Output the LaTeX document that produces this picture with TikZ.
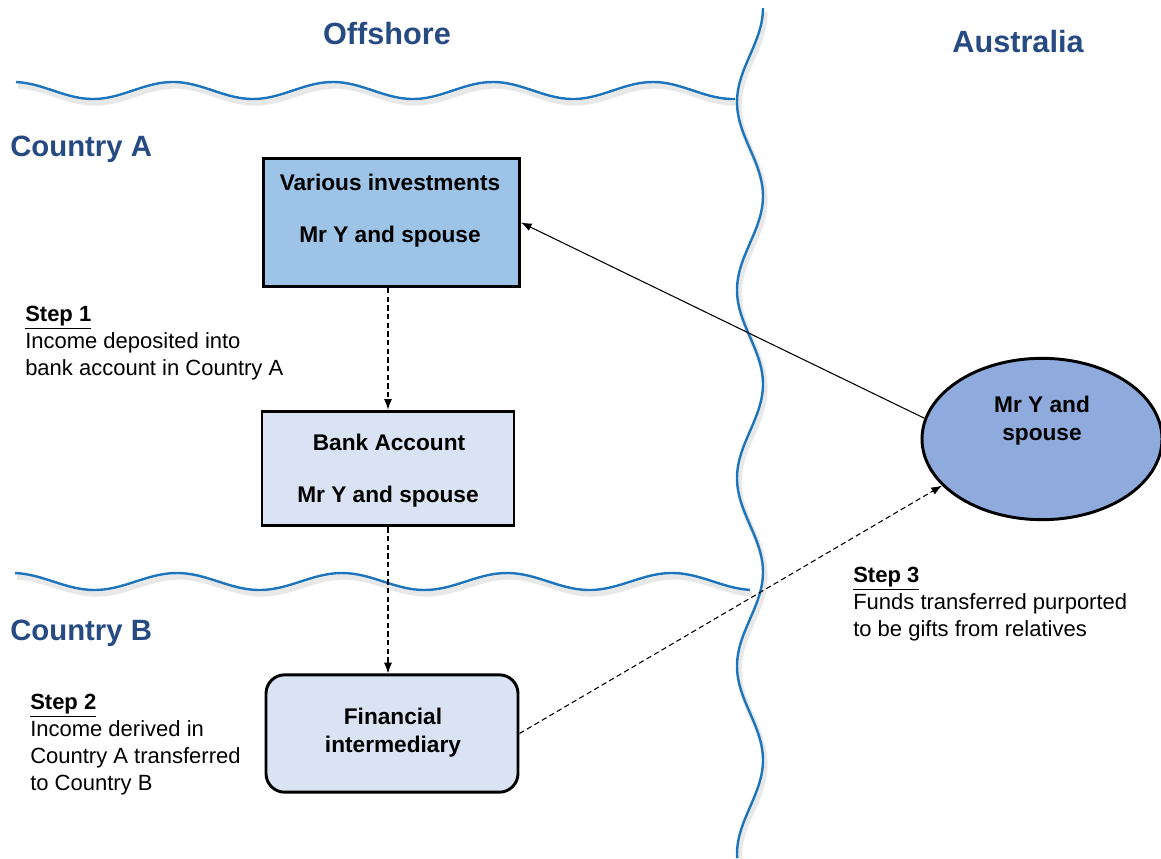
\documentclass[tikz,border=0pt]{standalone}
\usepackage{fontspec}
\setmainfont{Liberation Sans}
\usepackage{xcolor}
\usetikzlibrary{arrows.meta,shapes.geometric}

\definecolor{seablue}{RGB}{28,117,188}
\definecolor{headblue}{RGB}{38,74,130}
\definecolor{investfill}{RGB}{157,195,230}
\definecolor{paleblue}{RGB}{218,227,243}
\definecolor{ovalfill}{RGB}{143,170,220}

\begin{document}
\begin{tikzpicture}[x=0.75pt,y=-0.75pt,>={Latex[length=8pt,width=6pt]}]
\tikzstyle{border}=[draw=seablue,line width=1.8pt]
\tikzstyle{shade}=[draw=black!9,line width=4pt,xshift=1.5pt,yshift=-3pt]
\tikzstyle{title}=[text=headblue,inner sep=0pt,font=\fontsize{23}{27}\selectfont\bfseries]
\tikzstyle{box}=[draw=black,line width=2.2pt,inner sep=0pt]
\tikzstyle{boxtext}=[inner sep=0pt,font=\fontsize{17}{21}\selectfont\bfseries,align=center]
\tikzstyle{steptext}=[inner sep=0pt,anchor=west,align=left,font=\fontsize{16.5}{20.25}\selectfont]
\tikzstyle{flow}=[->,line width=0.8pt,dash pattern=on 4pt off 2.5pt]
\useasboundingbox (0,0) rectangle (1161,858);

\foreach \st in {shade,border} {
\draw[\st] plot[domain=16:735,samples=150] (\x,{90.5-8.5*cos((\x-173)/160*360)});
\draw[\st] plot[domain=15:750,samples=150] (\x,{581.5-8.5*cos((\x-507)/165*360)});
\draw[\st] plot[domain=8:858,samples=200] ({750+13*cos((\x-8)/188*360)},\x);
}

\node[title] (offshore) at (387,34) {Offshore};
\node[title] (australia) at (1018,42) {Australia};
\node[title,anchor=west,font=\fontsize{22}{26}\selectfont\bfseries] (countryA) at (10,149) {Country A};
\node[title,anchor=west,font=\fontsize{22}{26}\selectfont\bfseries] (countryB) at (10,633) {Country B};

\node[box,fill=investfill,minimum width=192pt,minimum height=96pt] (invest) at (391.5,222.5) {};
\node[boxtext] (investA) at (390,182) {Various investments};
\node[boxtext] (investB) at (390,237) {Mr Y and spouse};

\node[box,fill=paleblue,minimum width=189pt,minimum height=86pt] (bank) at (388,468.5) {};
\node[boxtext] (bankA) at (389,442) {Bank Account};
\node[boxtext] (bankB) at (388,497) {Mr Y and spouse};

\node[box,fill=paleblue,rounded corners=14pt,minimum width=189pt,minimum height=88pt] (fin) at (392,733.5) {};
\node[boxtext] (finT) at (393,733) {Financial\\intermediary};

\node[box,ellipse,fill=ovalfill,minimum width=180pt,minimum height=121pt] (spouse) at (1042,439) {};
\node[boxtext] (spouseT) at (1042,421) {Mr Y and\\spouse};

\node[steptext] (step1) at (25,343) {\underline{\textbf{Step 1}}\\Income  deposited into\\bank account in Country A};
\node[steptext] (step2) at (30,745) {\underline{\textbf{Step 2}}\\Income derived in\\Country A transferred\\to Country B};
\node[steptext] (step3) at (853,604) {\underline{\textbf{Step 3}}\\Funds transferred purported\\to be gifts from relatives};

\draw[->,line width=0.8pt] (spouse.170) -- (invest.east);
\draw[flow] (invest.south -| bank.north) -- (bank.north);
\draw[flow] (bank.south) -- (bank.south |- fin.north);
\draw[flow] (fin.east) -- (spouse.205);
\end{tikzpicture}
\end{document}
